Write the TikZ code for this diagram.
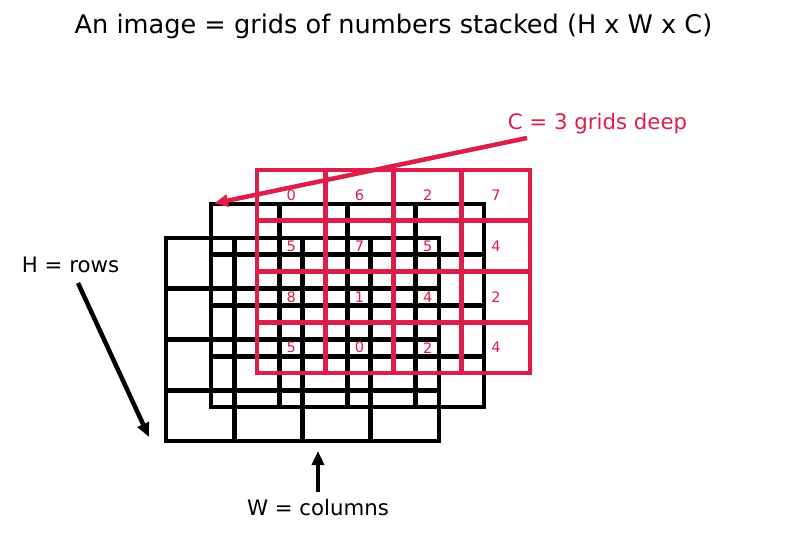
\documentclass[tikz,border=0pt]{standalone}
\usepackage{fontspec}
\setmainfont{DejaVu Sans}
\usetikzlibrary{arrows.meta}
\definecolor{crim}{RGB}{220,30,72}
\newcommand\gridat[3]{%
  \draw[gridline,#3] (#1,#2) rectangle ++(273,203);
  \foreach \i in {1,2,3} {\draw[gridline,#3] ({#1+\i*68.25},#2) -- ++(0,203);}
  \foreach \j in {1,2,3} {\draw[gridline,#3] (#1,{#2+\j*50.75}) -- ++(273,0);}
}
\begin{document}
\begin{tikzpicture}[x=1pt,y=-1pt,
  gridline/.style={line width=4.6pt},
  lbl/.style={font=\fontsize{21.3}{25}\selectfont, inner sep=0pt},
  num/.style={font=\fontsize{14.5}{16}\selectfont, text=crim, inner sep=0pt},
  arr/.style={line width=4.5pt, -{Triangle[length=14pt,width=12pt]}}]
\useasboundingbox (0,0) rectangle (787,533);
\fill[white] (0,0) rectangle (787,533);

\node[font=\fontsize{25.6}{30}\selectfont, inner sep=0pt] (title) at (393.5,26) {An image = grids of numbers stacked (H x W x C)};

\gridat{166}{238}{black}
\gridat{211}{204}{black}
\gridat{257}{170}{crim}

\foreach \r/\row in {0/{0,6,2,7},1/{5,7,5,4},2/{8,1,4,2},3/{5,0,2,4}} {
  \foreach \v [count=\c from 0] in \row {
    \node[num] (n\r\c) at ({257+68.25*(\c+0.5)},{170+50.75*(\r+0.5)}) {\v};
  }
}

\node[lbl, text=crim] (clab) at (597.5,124) {C = 3 grids deep};
\node[lbl] (hlab) at (70.5,265) {H = rows};
\node[lbl] (wlab) at (318,508) {W = columns};

\coordinate (cs) at (527,138);
\coordinate (ce) at (214,203.5);
\coordinate (hs) at (78,283);
\coordinate (he) at (149,437);
\coordinate (ws) at (318,492);
\coordinate (we) at (318,451);

\draw[arr, crim] (cs) -- (ce);
\draw[arr] (hs) -- (he);
\draw[arr] (ws) -- (we);
\end{tikzpicture}
\end{document}
